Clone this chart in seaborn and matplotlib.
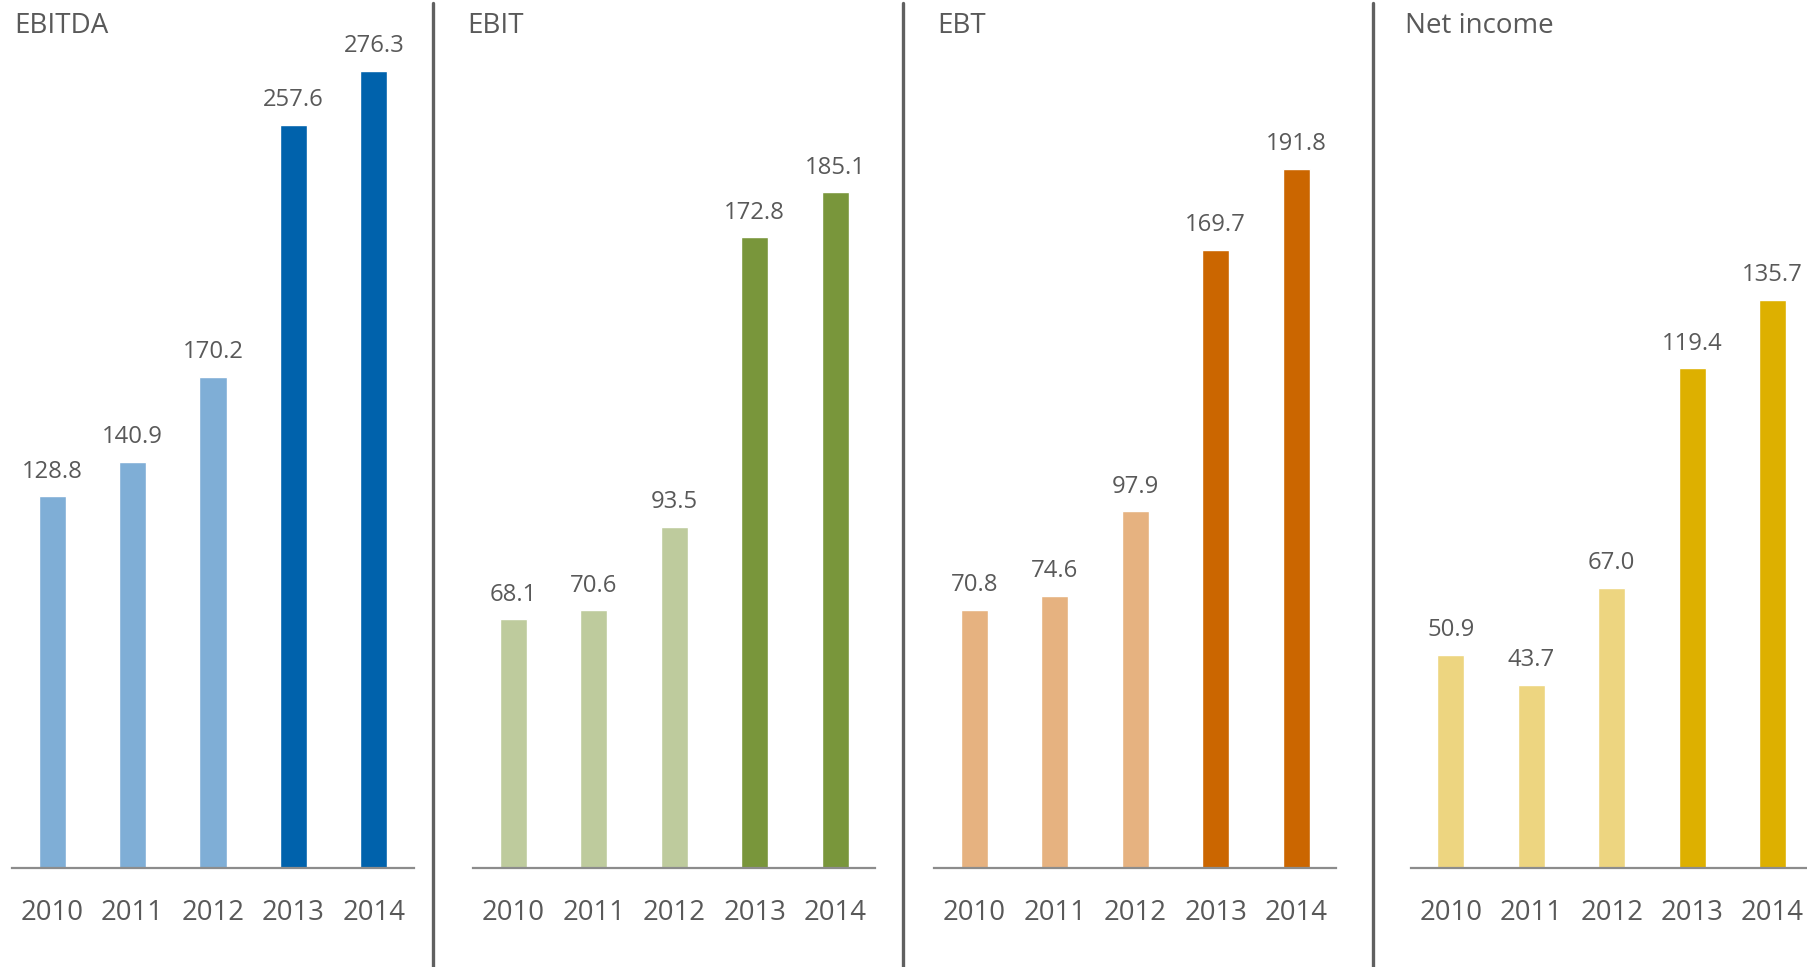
import matplotlib
matplotlib.use("Agg")
import matplotlib.pyplot as plt
from matplotlib.lines import Line2D
import seaborn as sns
import pandas as pd

# Key earnings figures, 2010-2014
years = ["2010", "2011", "2012", "2013", "2014"]
ebitda = [128.8, 140.9, 170.2, 257.6, 276.3]
ebit = [68.1, 70.6, 93.5, 172.8, 185.1]
ebt = [70.8, 74.6, 97.9, 169.7, 191.8]
net_income = [50.9, 43.7, 67.0, 119.4, 135.7]
titles = ["EBITDA", "EBIT", "EBT", "Net income"]

# Earlier years light, latest two years dark
palettes = [
    ["#7FAED6", "#7FAED6", "#7FAED6", "#0062AC", "#0062AC"],
    ["#BECB9D", "#BECB9D", "#BECB9D", "#79963B", "#79963B"],
    ["#E6B280", "#E6B280", "#E6B280", "#CB6600", "#CB6600"],
    ["#EDD580", "#EDD580", "#EDD580", "#DDB000", "#DDB000"],
]
series = [ebitda, ebit, ebt, net_income]

TEXT = "#595959"
W, H = 1808, 967
sns.set_theme(style="white")
plt.rcParams["font.family"] = ["Open Sans", "DejaVu Sans"]

fig = plt.figure(figsize=(W / 100, H / 100), dpi=100)

# panel geometry in pixels
lefts = [12, 473.3, 934.3, 1410.7]
width_px = 402
base_px = 868          # baseline from top
top_px = 0
ytops = [300.9, 237.8, 238.2, 207.4]
title_x = [14, 467, 937, 1405]

for i in range(4):
    ax = fig.add_axes([lefts[i] / W, (H - base_px) / H, width_px / W,
                       (base_px - top_px) / H])
    df = pd.DataFrame({"year": years, "value": series[i]})
    sns.barplot(data=df, x="year", y="value", hue="year", palette=palettes[i],
                dodge=False, legend=False, width=0.336, saturation=1, ax=ax)
    ax.set_xlim(-0.5, 4.5)
    ax.set_ylim(0, ytops[i])
    ax.set_xlabel("")
    ax.set_ylabel("")
    ax.set_yticks([])
    for s in ["top", "left", "right"]:
        ax.spines[s].set_visible(False)
    ax.spines["bottom"].set_color("#8C8C8C")
    ax.spines["bottom"].set_linewidth(1.6)
    ax.tick_params(axis="x", length=0, pad=22.5, labelsize=19.8, labelcolor=TEXT)
    for x, v in enumerate(series[i]):
        ax.annotate(f"{v:.1f}", xy=(x, v), xytext=(0, 13.5),
                    textcoords="offset points", ha="center", va="baseline",
                    fontsize=17.2, color=TEXT)
    ax.patch.set_alpha(0)
    fig.text(title_x[i] / W, 1 - 33 / H, titles[i], ha="left", va="baseline",
             fontsize=20, color=TEXT)

# vertical separators between panels
for xs in [433.3, 903.5, 1373.3]:
    fig.add_artist(Line2D([xs / W, xs / W], [0, 1 - 3 / H],
                          transform=fig.transFigure, color="#606060", lw=2.4))

fig.savefig("out.png", dpi=100)
